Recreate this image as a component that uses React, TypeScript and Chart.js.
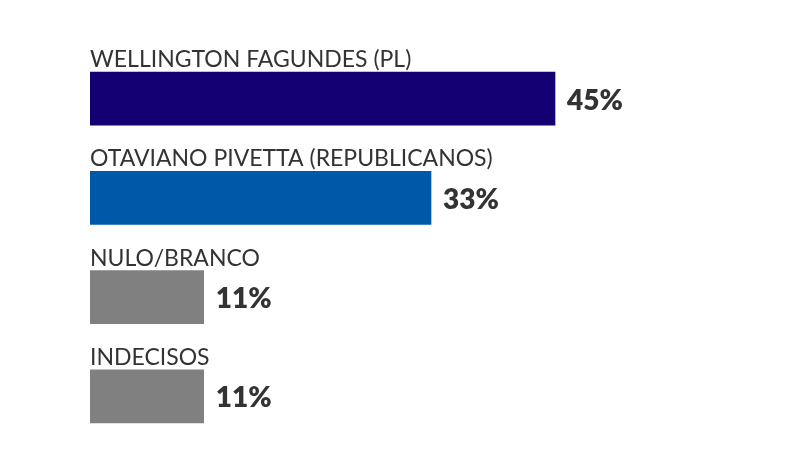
import React, { useEffect, useRef } from "react";
import { Chart, registerables } from "chart.js";

Chart.register(...registerables);

const categories: string[] = [
  "WELLINGTON FAGUNDES (PL)",
  "OTAVIANO PIVETTA (REPUBLICANOS)",
  "NULO/BRANCO",
  "INDECISOS",
];
const values: number[] = [45, 33, 11, 11];
const valueLabels: string[] = ["45%", "33%", "11%", "11%"];
const barColors: string[] = ["#140073", "#0058a8", "#808080", "#808080"];

const FONT = "Lato, 'Source Sans Pro', 'Noto Sans', sans-serif";

const labelPlugin = {
  id: "barLabels",
  afterDatasetsDraw(chart: any) {
    const ctx = chart.ctx;
    const meta = chart.getDatasetMeta(0);
    ctx.save();
    meta.data.forEach((bar: any, i: number) => {
      const props = bar.getProps(["x", "y", "base", "height"], true);
      const top = props.y - props.height / 2;
      // category label above bar
      ctx.font = `400 23px ${FONT}`;
      ctx.fillStyle = "#333333";
      ctx.textAlign = "left";
      ctx.textBaseline = "alphabetic";
      ctx.fillText(categories[i], props.base, top - 5);
      // value label right of bar
      ctx.font = `800 28px ${FONT}`;
      ctx.fillStyle = "#333333";
      ctx.textBaseline = "alphabetic";
      ctx.fillText(valueLabels[i], props.x + 12, props.y + 11);
    });
    ctx.restore();
  },
};

export default function App() {
  const canvasRef = useRef<HTMLCanvasElement | null>(null);

  useEffect(() => {
    if (!canvasRef.current) return;
    const chart = new Chart(canvasRef.current, {
      type: "bar",
      data: {
        labels: categories,
        datasets: [
          {
            data: values,
            backgroundColor: barColors,
            borderWidth: 0,
            barThickness: 53,
          },
        ],
      },
      options: {
        indexAxis: "y",
        animation: false,
        responsive: false,
        maintainAspectRatio: false,
        devicePixelRatio: 1,
        layout: { padding: { left: 90, right: 90, top: 49, bottom: 4 } },
        plugins: {
          legend: { display: false },
          tooltip: { enabled: false },
        },
        scales: {
          x: { display: false, min: 0, max: 60 },
          y: { display: false },
        },
      },
      plugins: [labelPlugin],
    });
    return () => chart.destroy();
  }, []);

  return (
    <div style={{ position: "absolute", left: 0, top: 0, width: 800, height: 450, background: "#ffffff" }}>
      <canvas ref={canvasRef} width={800} height={450} />
    </div>
  );
}
